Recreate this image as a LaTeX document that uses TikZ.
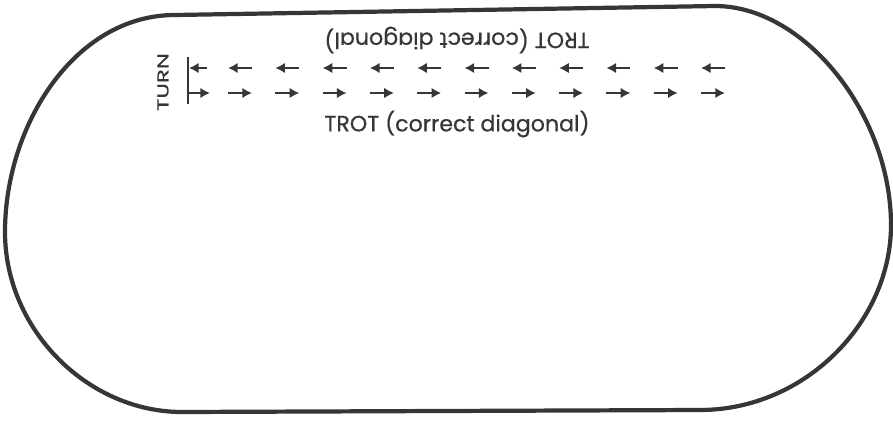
\documentclass[tikz,border=0pt]{standalone}
\usepackage{fontspec}
\setmainfont{Poppins}[FakeBold=0.6]
\usetikzlibrary{arrows.meta}
\definecolor{ink}{HTML}{363636}

\begin{document}
\begin{tikzpicture}[x=0.02cm,y=-0.02cm,
    track/.style={draw=ink, line width=2.4pt, line join=round},
    gait/.style={draw=ink, line width=1.7pt, -{Latex[length=5.5pt,width=6pt]}},
    lbl/.style={text=ink, inner sep=0pt, font=\fontsize{12.6}{14}\selectfont},
    turnlbl/.style={text=ink, inner sep=0pt, font=\fontsize{9}{10}\selectfont}]
        \useasboundingbox (0,0) rectangle (893,420);

        % Arena outline
        \draw[track] (175,15) -- (715,6) .. controls (805,6) and (891,115) .. (891,225)
            .. controls (891,322) and (805,410) .. (700,410) -- (182,412)
            .. controls (88,412) and (5,330) .. (5,232)
            .. controls (5,125) and (75,15) .. (175,15) -- cycle;

        % Labels
        \node[lbl, rotate=180] (trottop) at (457,40) {TROT (correct diagonal)};
        \node[lbl] (trotbottom) at (457,124) {TROT (correct diagonal)};
        \node[turnlbl, rotate=90] (turn) at (163,82) {\scalebox{1.45}[1]{TURN}};

        % Turn mark
        \draw[draw=ink, line width=1.7pt] (188,57) -- (188,104);
        \draw[gait] (207,68) -- (189,68);
        \draw[gait] (188,93) -- (210,93);

        % Trot arrows
        \foreach \i in {0,...,10} {
            \draw[gait] (252+47.3*\i,68) -- ++(-24,0);
            \draw[gait] (228+47.3*\i,93) -- ++(24,0);
        }
    \end{tikzpicture}
\end{document}
